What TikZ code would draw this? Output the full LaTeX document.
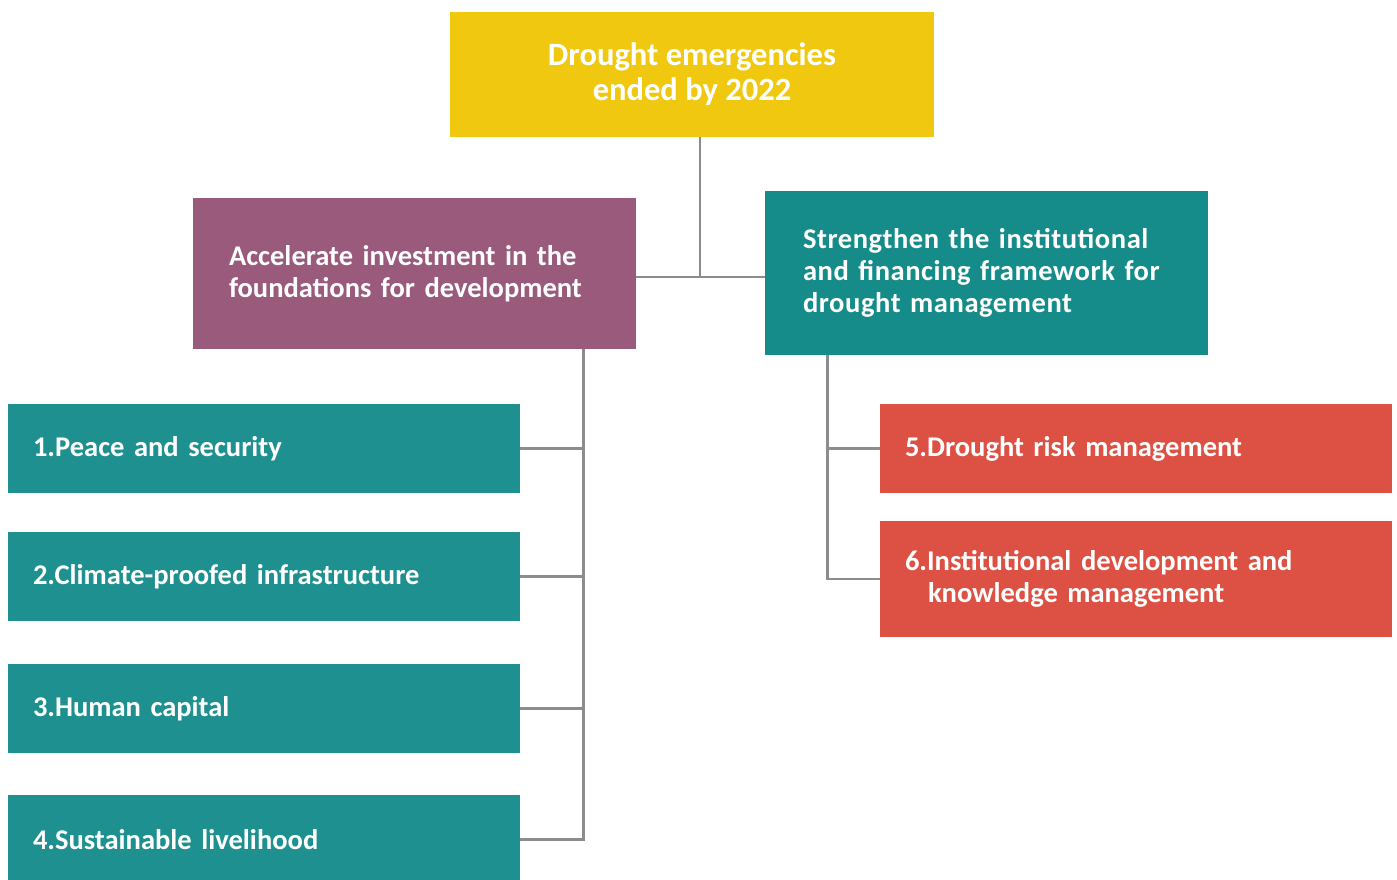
\documentclass[tikz,border=0pt]{standalone}
\usepackage{fontspec}
\setmainfont{Carlito}
\usepackage{xcolor}
\usepackage{tikz}
\usetikzlibrary{positioning}
\definecolor{goalyellow}{HTML}{EFC80F}
\definecolor{pillarplum}{HTML}{995A7B}
\definecolor{pillarteal}{HTML}{168C8A}
\definecolor{areateal}{HTML}{1F9090}
\definecolor{areared}{HTML}{DC5143}
\definecolor{linkgray}{HTML}{8C8C8C}

\begin{document}
\begin{tikzpicture}[x=0.75pt,y=-0.75pt,
  every node/.style={font=\bfseries\fontsize{21.4pt}{24pt}\selectfont,text=white,inner ysep=0pt},
  goal/.style={fill=goalyellow,minimum width=363pt,minimum height=93.75pt,align=center,
    font=\bfseries\fontsize{24.4pt}{26.25pt}\selectfont},
  pillar/.style={minimum height=#1,align=left},
  area/.style={minimum height=66.75pt,text width=346.5pt,inner xsep=18.75pt,align=left},
  link/.style={draw=linkgray,line width=1.9pt}]
  \useasboundingbox (0,0) rectangle (1397,879);
  \node[goal] (goal) at (692,74.5) {Drought emergencies\\ended by 2022};
  \node[pillar=113.25pt,fill=pillarplum,text width=278.25pt,inner xsep=27pt] (found) at (414.5,273.5)
    {Accelerate investment in the\\foundations for development};
  \node[pillar=123pt,fill=pillarteal,text width=275.25pt,inner xsep=28.5pt,
    font=\bfseries\fontsize{21.4pt}{24pt}\selectfont\addfontfeatures{LetterSpace=2}] (inst) at (986.5,273)
    {Strengthen the institutional\\and financing framework for\\drought management};
  \node[area,fill=areateal] (peace)   at (264,448.5) {1.Peace and security};
  \node[area,fill=areateal] (climate) at (264,576.5) {2.Climate-proofed infrastructure};
  \node[area,fill=areateal] (human)   at (264,708.5) {3.Human capital};
  \node[area,fill=areateal] (liveli)  at (264,839.5) {4.Sustainable livelihood};
  \node[area,fill=areared] (risk) at (1136,448.5) {5.Drought risk management};
  \node[area,fill=areared,minimum height=87pt] (knowl) at (1136,579)
    {6.Institutional development and\\\hspace*{17.25pt}knowledge management};
  \coordinate (hub) at (700,277);
  \path (found.south east) ++(-53,0) coordinate (ltrunk);
  \path (inst.south west) ++(63,0) coordinate (rtrunk);
  \draw[link] (found.east |- hub) -- (inst.west |- hub);
  \draw[link] (goal.south -| hub) -- (hub);
  \draw[link] (ltrunk) |- (liveli.east);
  \draw[link] (peace.east) -- (peace.east -| ltrunk);
  \draw[link] (climate.east) -- (climate.east -| ltrunk);
  \draw[link] (human.east) -- (human.east -| ltrunk);
  \draw[link] (rtrunk) |- (knowl.west);
  \draw[link] (risk.west) -- (risk.west -| rtrunk);
\end{tikzpicture}
\end{document}
